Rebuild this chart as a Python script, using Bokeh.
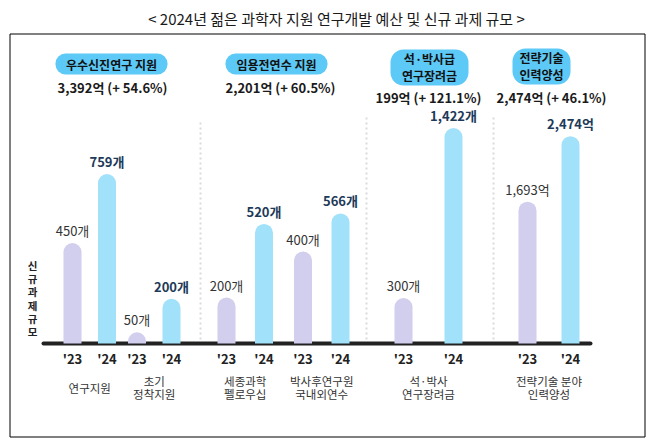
from bokeh.plotting import figure
from bokeh.models import (Range1d, FactorRange, CategoricalScale, LinearScale, ColumnDataSource,
                          CoordinateMapping)
from bokeh.core.properties import value
from bokeh.embed import file_html
from bokeh.resources import INLINE

# ---------------- data ----------------
title_text = "< 2024년 젊은 과학자 지원 연구개발 예산 및 신규 과제 규모 >"
y_title = "신\n규\n과\n제\n규\n모"
sections = ["우수신진연구 지원", "임용전연수 지원", "석·박사급\n연구장려금", "전략기술\n인력양성"]
section_budget = ["3,392억 (+ 54.6%)", "2,201억 (+ 60.5%)", "199억 (+ 121.1%)", "2,474억 (+ 46.1%)"]
categories = ["연구지원", "초기\n정착지원", "세종과학\n펠로우십", "박사후연구원\n국내외연수",
              "석·박사\n연구장려금", "전략기술 분야\n인력양성"]
category_section = [0, 0, 1, 1, 2, 3]
years = ["'23", "'24"]
value_23 = [450, 50, 200, 400, 300, 1693]
value_24 = [759, 200, 520, 566, 1422, 2474]
units = ["개", "개", "개", "개", "개", "억"]

# ---------------- layout / style ----------------
FONT = "Noto Sans CJK KR"
W, H = 649, 438


def py(y):
    """picture pixel row -> main y coordinate (0 at figure bottom)"""
    return H - y


BASE = 343                         # baseline row in the picture
sec_target = [(59.5, 183.5), (213.5, 352.5), (390.5, 465.5), (514.5, 582.5)]
sec_factor_pad = [0.38, 0.5, 1.0, 0.72]
sec_group_pad = [0.2, 0.56, 0.0, 0.0]
sec_px_per_unit = [0.2232, 0.2299, 0.1515, 0.0838]   # each section drawn on its own scale
BAR_W = 0.72
C23, C24 = "#D2CEED", "#A2E1FA"
PILL = "#5DC9F7"

p = figure(width=W, height=H, x_range=Range1d(0, W), y_range=Range1d(0, H),
           x_axis_type=None, y_axis_type=None, toolbar_location=None, output_backend="svg",
           min_border=0, min_border_left=0, min_border_right=0, min_border_top=0,
           min_border_bottom=0, background_fill_color="white", border_fill_color="white")
p.outline_line_color = None

# title and outer box
p.text(x=[336], y=[py(18)], text=[title_text], text_font=value(FONT), text_font_size="15px",
       text_color="#1a1a1a", text_align="center", text_baseline="middle")
p.quad(left=9.5, right=644.5, top=py(33.5), bottom=py(436.5), fill_color=None,
       line_color="black", line_width=1)

# baseline and dotted section separators
p.segment(x0=43, y0=py(BASE), x1=590, y1=py(BASE), line_width=4, line_color="#222222", line_cap="round")
p.segment(x0=[200, 366, 493], y0=[py(122), py(117), py(117)], x1=[200, 366, 493], y1=[py(341)] * 3,
          line_width=2, line_color="#dadada", line_dash="2 3")

# section header pills
p.quad(left=[55, 225], right=[167, 327], top=[py(53)] * 2, bottom=[py(74)] * 2,
       fill_color=PILL, line_color=None, border_radius=10)
p.quad(left=[390, 512], right=[468, 570], top=[py(49), py(48)], bottom=[py(85), py(84)],
       fill_color=PILL, line_color=None, border_radius=13)
p.text(x=[111, 276, 429, 541], y=[py(63.5), py(63.5), py(66.5), py(65.5)], text=sections,
       text_font=value(FONT), text_font_size="12px", text_font_style="bold", text_color="#111111",
       text_align="center", text_baseline="middle", text_line_height=1.0)
p.text(x=[112, 280, 428, 551], y=[py(87), py(87), py(97), py(97)], text=section_budget,
       text_font=value(FONT), text_font_size="13px", text_font_style="bold", text_color="#1a1a1a",
       text_align="center", text_baseline="middle")

# vertical axis title (stacked characters)
p.text(x=[32], y=[py(298)], text=[y_title], text_font=value(FONT), text_font_size="10.5px",
       text_font_style="bold", text_color="#222222", text_align="center", text_baseline="middle",
       text_line_height=0.88)

# bars, one sub-coordinate system per section
for s in range(4):
    idx = [i for i in range(len(categories)) if category_section[i] == s]
    factors = [(categories[i], yr) for i in idx for yr in years]
    tops, colors, labels, lcolors, lstyles = [], [], [], [], []
    for i in idx:
        for yr, v in zip(years, (value_23[i], value_24[i])):
            tops.append(v)
            labels.append(f"{v:,}{units[i]}")
            colors.append(C23 if yr == years[0] else C24)
            lcolors.append("#333333" if yr == years[0] else "#1d3a58")
            lstyles.append("normal" if yr == years[0] else "bold")
    xr = FactorRange(factors=factors, range_padding=0,
                     factor_padding=sec_factor_pad[s], group_padding=sec_group_pad[s])
    k = sec_px_per_unit[s]
    src = ColumnDataSource(dict(x=factors, top=tops, color=colors, label=labels,
                                lcolor=lcolors, lstyle=lstyles,
                                year=[f[1] for f in factors]))
    rs = []
    rs.append(p.vbar(x="x", top="top", bottom=0, width=BAR_W, fill_color="color", line_color=None,
                     border_radius=(9, 9, 0, 0), source=src))
    rs.append(p.text(x="x", y="top", text="label", text_color="lcolor", text_font_style="lstyle",
                     text_font=value(FONT), text_font_size="13px", text_align="center",
                     text_baseline="bottom", y_offset=-3, source=src))
    rs.append(p.text(x="x", y=0, text="year", text_font=value(FONT), text_font_size="13px",
                     text_font_style="bold", text_color="#222222", text_align="center",
                     text_baseline="middle", y_offset=15, source=src))
    rs.append(p.text(x=[categories[i] for i in idx], y=[0] * len(idx), text=[categories[i] for i in idx],
                     text_font=value(FONT), text_font_size="11.5px", text_color="#333333",
                     text_align="center", text_baseline="middle", y_offset=44, text_line_height=0.8))
    for r in rs:
        r.coordinates = CoordinateMapping(
            x_source=xr, y_source=Range1d(0, 1000),
            x_scale=CategoricalScale(), y_scale=LinearScale(),
            x_target=Range1d(*sec_target[s]),
            y_target=Range1d(py(BASE), py(BASE) + 1000 * k))

open("out.html", "w").write(file_html(p, INLINE))
